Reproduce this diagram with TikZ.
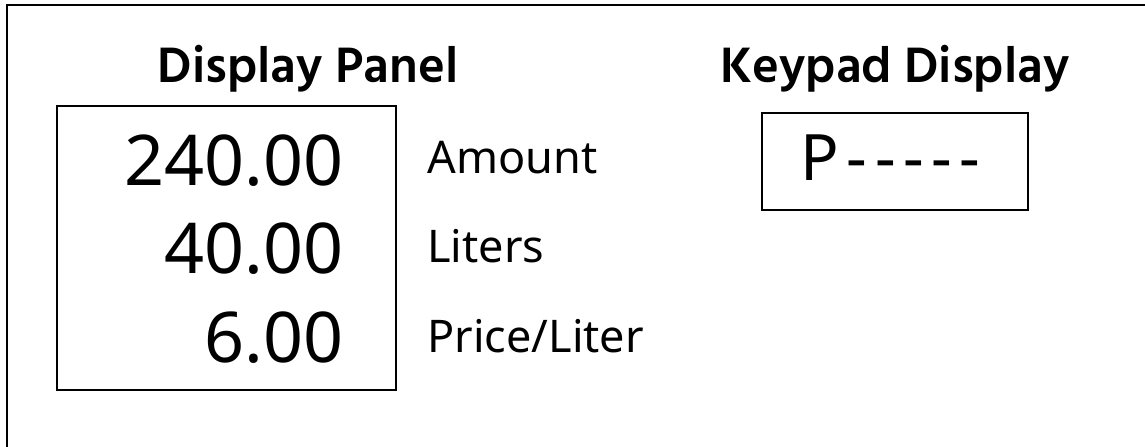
\documentclass[tikz,border=0pt]{standalone}
\usepackage{fontspec}
\setmainfont{Noto Sans}
\newfontfamily\titlefont{Hind Siliguri}

\newcommand{\pxscl}{0.5pt}
\newcommand{\titlenode}{\node[font=\titlefont\bfseries\fontsize{25.5}{30}\selectfont, anchor=base]}
\newcommand{\valnode}{\node[font=\fontsize{35}{40}\selectfont, anchor=base east, inner sep=0pt]}
\newcommand{\lblnode}{\node[font=\fontsize{22.5}{27}\selectfont, anchor=base west, inner sep=0pt]}
\newcommand{\boxnode}{\node[draw, line width=1pt, inner sep=0pt]}

\begin{document}
\begin{tikzpicture}[x=\pxscl, y=-\pxscl]
            \useasboundingbox (0,0) rectangle (1145,446);
            \clip (0,0) rectangle (1145,446);

            % outer frame, cut at the right and bottom
            \coordinate (fbot) at (7,470);
            \coordinate (fcorner) at (7,5);
            \coordinate (fright) at (1170,5);
            \draw[line width=1pt] (fbot) -- (fcorner) -- (fright);

            \titlenode (ptitle) at (308,82) {Display Panel};
            \titlenode (ktitle) at (895,82) {Keypad Display};

            \boxnode[minimum width=339*\pxscl, minimum height=284*\pxscl] (panel) at (226.5,248) {};
            \boxnode[minimum width=266*\pxscl, minimum height=97*\pxscl] (keypad) at (895,161.5) {};

            \valnode (amount) at (344,185) {240.00};
            \valnode (liters) at (344,273) {40.00};
            \valnode (price) at (344,362) {6.00};

            \lblnode (lamount) at (427,173) {Amount};
            \lblnode (lliters) at (427,262) {Liters};
            \lblnode (lprice) at (427,352) {Price/Liter};

            \node[font=\fontsize{32}{36}\selectfont\addfontfeature{LetterSpace=12}, anchor=base west, inner sep=0pt] (kcode) at (800,180) {P{-}{-}{-}{-}{-}};
        \end{tikzpicture}
\end{document}
